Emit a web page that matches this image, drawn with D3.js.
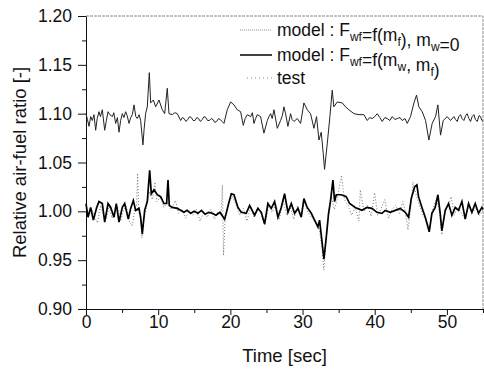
<!DOCTYPE html>
<html>
<head>
<meta charset="utf-8">
<style>
    body { margin: 0; background: white; }
    text { font-family: Arial, "Liberation Sans", sans-serif; fill: #111; }
    .axis path, .axis line { stroke: #111; stroke-width: 1; }
    .axis text { font-size: 17.5px; }
</style>
</head>
<body>
<div id="chart"></div>
<script src="https://cdn.jsdelivr.net/npm/d3@7"></script>
<script>

//////////////////// data ////////////////////
// model : Fwf = f(mf), mw = 0  (upper trace) -- [time s, ratio]
let model_mw0 = [
    [0,1.100],[0.2,1.094],[0.42,1.087],[0.65,1.097],[0.88,1.093],[1.1,1.099],[1.34,1.083],[1.55,1.095],[1.80,1.102],[2.0,1.097],[2.26,1.104],[2.59,1.083],[2.8,1.092],[3.05,1.102],
    [3.3,1.099],[3.65,1.097],[3.85,1.101],[4.11,1.090],[4.35,1.096],[4.57,1.081],[4.8,1.093],[5.03,1.100],[5.25,1.096],[5.49,1.102],[5.7,1.098],[5.96,1.090],[6.2,1.096],[6.42,1.099],[6.65,1.109],
    [6.9,1.097],[7.11,1.095],[7.35,1.099],[7.57,1.093],[7.89,1.068],[8.05,1.084],[8.26,1.100],[8.49,1.107],[8.77,1.142],[8.96,1.111],[9.33,1.114],
    [9.65,1.107],[10.11,1.114],[10.57,1.104],[10.90,1.100],[11.26,1.126],[11.50,1.100],[11.96,1.099],[12.3,1.101],[12.65,1.100],
    [13.11,1.093],[13.35,1.096],[13.6,1.095],[13.85,1.092],[14.1,1.094],[14.35,1.097],[14.6,1.096],[14.85,1.093],[15.1,1.093],[15.35,1.096],[15.6,1.095],[15.85,1.092],[16.1,1.094],[16.35,1.097],[16.6,1.096],
    [16.85,1.093],[17.1,1.093],[17.35,1.095],[17.6,1.094],[17.85,1.091],[18.1,1.092],[18.35,1.095],[18.6,1.094],[18.85,1.092],[19.11,1.090],[19.57,1.104],[20.04,1.112],[20.50,1.109],
    [20.96,1.104],[21.42,1.102],[21.79,1.088],[22.05,1.095],[22.35,1.099],[22.81,1.097],[23.05,1.101],[23.27,1.090],[23.5,1.095],[23.73,1.099],[24.19,1.097],
    [24.65,1.080],[25.12,1.093],[25.35,1.097],[25.58,1.100],[25.8,1.095],[26.04,1.104],[26.50,1.085],[26.96,1.093],[27.2,1.098],[27.42,1.107],[27.65,1.100],
    [27.97,1.087],[28.34,1.100],[28.55,1.094],[28.81,1.092],[29.27,1.095],[29.73,1.090],[30.19,1.111],[30.65,1.104],[31.11,1.100],
    [31.58,1.085],[31.94,1.097],[32.27,1.073],[32.59,1.081],[32.87,1.059],[33.05,1.043],[33.42,1.069],[33.79,1.097],
    [34.11,1.124],[34.34,1.107],[34.81,1.112],[35.50,1.111],[35.96,1.107],[36.42,1.104],[37.12,1.100],[37.81,1.099],
    [38.50,1.099],[38.96,1.093],[39.3,1.096],[39.65,1.095],[40.0,1.097],[40.35,1.100],[40.7,1.096],[41.04,1.092],[41.4,1.096],[41.73,1.095],[42.1,1.093],[42.43,1.097],[42.8,1.094],[43.12,1.095],
    [43.5,1.096],[43.81,1.093],[44.2,1.095],[44.50,1.090],[44.96,1.097],[45.43,1.111],[45.79,1.119],[46.12,1.107],[46.58,1.102],[47.04,1.093],
    [47.50,1.073],[47.96,1.090],[48.43,1.097],[48.75,1.109],[49.12,1.078],[49.49,1.093],[50.04,1.097],[50.50,1.093],
    [50.97,1.097],[51.2,1.094],[51.43,1.092],[51.65,1.097],[51.89,1.099],[52.1,1.095],[52.35,1.093],[52.6,1.098],[52.81,1.100],[53.05,1.095],[53.27,1.092],[53.5,1.097],[53.74,1.099],[53.95,1.094],[54.20,1.092],
    [54.45,1.098],[54.66,1.097],[54.85,1.093],[55,1.092]
];

// model : Fwf = f(mw, mf)  (lower trace)
let model_mwmf = [
    [0,1.008],[0.28,0.994],[0.65,1.004],[1.02,0.991],[1.48,1.004],[1.80,1.010],[2.26,1.008],[2.59,0.989],
    [3.05,1.008],[3.42,1.004],[3.88,0.994],[4.20,1.008],[4.57,0.989],[5.03,1.004],[5.36,1.008],[5.86,0.992],
    [6.19,1.003],[6.56,1.011],[6.88,1.001],[7.34,1.003],[7.57,0.994],[7.80,0.977],[8.13,1.001],[8.49,1.010],
    [8.82,1.042],[9.05,1.018],[9.42,1.022],[9.88,1.017],[10.34,1.015],[10.80,1.008],[11.17,1.008],[11.36,1.032],
    [11.54,1.006],[11.96,1.004],[12.65,1.003],[13.11,1.001],[13.57,0.999],[14.0,1.001],[14.5,0.998],[15.0,1.000],
    [15.5,0.998],[16.0,1.001],[16.5,0.997],[17.0,0.999],[17.5,0.998],[18.0,0.996],[18.56,0.999],[19.20,0.992],
    [19.43,0.998],[19.76,1.008],[20.13,1.018],[20.50,1.017],[21.05,1.004],[21.51,0.999],[22.20,0.998],[22.67,1.006],
    [23.36,0.996],[23.82,1.003],[24.28,0.999],[24.74,0.987],[25.20,1.008],[25.67,1.003],[26.13,1.010],[26.59,0.994],
    [27.05,1.004],[27.51,1.018],[27.98,0.999],[28.44,1.008],[28.90,0.998],[29.36,1.003],[29.82,0.994],[30.19,1.013],
    [30.65,1.004],[31.21,0.998],[31.67,0.991],[32.13,0.984],[32.36,0.991],[32.68,0.970],[32.96,0.951],[33.28,0.973],
    [33.61,0.998],[33.88,1.011],[34.21,1.032],[34.44,1.010],[34.67,1.017],[35.36,1.017],[36.05,1.015],[36.52,1.008],
    [37.30,1.004],[38.22,1.001],[38.92,1.004],[39.61,1.003],[40.30,0.999],[40.99,0.998],[41.46,1.001],[42.15,0.999],
    [42.84,1.001],[43.53,1.003],[44.23,0.999],[44.69,0.994],[45.06,1.013],[45.52,1.025],[45.84,1.027],[46.07,1.015],
    [46.54,1.004],[47.00,0.994],[47.55,0.979],[47.92,0.998],[48.38,1.004],[48.75,1.017],[49.07,0.998],[49.30,0.980],
    [49.77,1.001],[50.23,1.008],[50.69,0.996],[51.15,1.004],[51.61,1.001],[52.08,1.010],[52.54,0.992],[53.00,1.008],
    [53.46,0.999],[53.92,1.008],[54.38,0.998],[54.85,1.004],[55,1.002]
];

// test
let test = [
    [0,1.003],[0.4,0.996],[0.8,1.002],[1.2,0.994],[1.6,0.988],[2.0,1.006],[2.4,0.997],[2.8,0.992],[3.2,1.005],
    [3.6,0.993],[4.0,1.001],[4.4,1.004],[4.8,0.990],[5.2,1.002],[5.6,1.005],[6.0,0.990],[6.4,0.985],[6.8,1.004],
    [7.0,1.006],[7.15,1.039],[7.3,1.000],[7.6,0.990],[7.75,0.973],[8.0,0.992],[8.4,1.006],[8.8,1.020],[9.2,1.012],
    [9.55,1.030],[9.8,1.010],[10.3,1.014],[10.8,1.004],[11.3,1.010],[11.8,1.002],[12.4,1.011],[12.8,0.998],[13.3,1.002],
    [13.8,0.993],[14.3,1.001],[14.8,0.996],[15.3,1.002],[15.8,0.990],[16.3,0.999],[16.8,0.994],[17.3,1.002],[17.8,0.992],
    [18.3,1.000],[18.7,0.996],[18.9,1.027],[19.05,0.955],[19.3,0.996],[19.8,1.010],[20.3,1.015],[20.8,1.006],[21.3,0.996],
    [21.8,1.003],[22.3,0.990],[22.8,1.005],[23.3,0.994],[23.8,1.004],[24.3,0.996],[24.8,0.986],[25.3,1.006],[25.8,0.999],
    [26.3,1.008],[26.8,0.992],[27.3,1.012],[27.8,0.996],[28.3,1.004],[28.8,0.992],[29.3,1.006],[29.8,0.996],[30.3,1.010],
    [30.8,0.998],[31.3,0.993],[31.8,0.988],[32.3,0.982],[32.7,0.962],[32.95,0.940],[33.2,0.965],[33.6,1.000],[34.0,1.015],
    [34.4,1.002],[34.8,1.012],[35.4,1.037],[35.8,1.012],[36.3,1.006],[36.8,0.996],[37.3,1.004],[37.8,0.990],[38.0,1.022],
    [38.5,1.000],[39.0,1.006],[39.5,0.995],[40.0,1.019],[40.4,0.996],[40.9,1.003],[41.4,1.012],[41.9,0.993],[42.4,1.002],
    [42.9,1.006],[43.4,0.998],[43.9,1.010],[44.3,0.997],[44.6,0.981],[45.0,1.004],[45.3,1.030],[45.7,1.018],[46.2,1.006],
    [46.7,0.996],[47.2,0.990],[47.6,0.982],[48.0,1.002],[48.5,1.012],[48.9,1.004],[49.3,0.976],[49.7,1.000],[50.2,1.006],
    [50.6,1.015],[51.0,0.996],[51.5,1.004],[52.0,0.998],[52.5,0.992],[53.0,1.006],[53.5,0.998],[54.0,1.004],[54.5,0.996],
    [55,1.002]
];

let x_ticks = [0, 10, 20, 30, 40, 50];
let x_minor = [5, 15, 25, 35, 45, 55];
let y_ticks = [0.90, 0.95, 1.00, 1.05, 1.10, 1.15, 1.20];
let y_minor = [0.925, 0.975, 1.025, 1.075, 1.125, 1.175];

//////////////////// layout ////////////////////
let W = 484, H = 370;
let m_left = 86, m_right = 483, m_top = 16, m_bottom = 309;

let svg = d3.select('#chart').append('svg')
    .attr('width', W)
    .attr('height', H);

let x = d3.scaleLinear().domain([0, 55]).range([m_left, m_right]);
let y = d3.scaleLinear().domain([0.90, 1.20]).range([m_bottom, m_top]);

// frame top / right (faint)
svg.append('path')
    .attr('d', `M ${m_left} ${m_top} L ${m_right} ${m_top} L ${m_right} ${m_bottom}`)
    .attr('fill', 'none')
    .attr('stroke', '#888')
    .attr('stroke-dasharray', '3,1');

// axes
svg.append('g').attr('class', 'axis')
    .attr('transform', `translate(0, ${m_bottom})`)
    .call(d3.axisBottom(x).tickValues(x_minor).tickSize(4).tickFormat(''))
    .call(g => g.select('.domain').remove());
svg.append('g').attr('class', 'axis')
    .attr('transform', `translate(0, ${m_bottom})`)
    .call(d3.axisBottom(x).tickValues(x_ticks).tickSize(6).tickSizeOuter(0).tickPadding(1).tickFormat(d3.format('d')));

svg.append('g').attr('class', 'axis')
    .attr('transform', `translate(${m_left}, 0)`)
    .call(d3.axisLeft(y).tickValues(y_minor).tickSize(4).tickFormat(''))
    .call(g => g.select('.domain').remove());
svg.append('g').attr('class', 'axis')
    .attr('transform', `translate(${m_left}, 0)`)
    .call(d3.axisLeft(y).tickValues(y_ticks).tickSize(8).tickSizeOuter(0).tickPadding(6).tickFormat(d3.format('.2f')));

// titles
svg.append('text')
    .attr('x', (m_left + m_right) / 2)
    .attr('y', 362)
    .attr('text-anchor', 'middle')
    .style('font-size', '18.5px')
    .text('Time [sec]');

svg.append('text')
    .attr('transform', `translate(26, ${(m_top + m_bottom) / 2}) rotate(-90)`)
    .attr('text-anchor', 'middle')
    .style('font-size', '18.5px')
    .text('Relative air-fuel ratio [-]');

//////////////////// lines ////////////////////
let line = d3.line().x(d => x(d[0])).y(d => y(d[1]));

svg.append('path')
    .datum(test)
    .attr('d', line)
    .attr('fill', 'none')
    .attr('stroke', '#777')
    .attr('stroke-width', 1)
    .attr('stroke-dasharray', '1,2');

svg.append('path')
    .datum(model_mw0)
    .attr('d', line)
    .attr('fill', 'none')
    .attr('stroke', '#222')
    .attr('stroke-width', 1);

svg.append('path')
    .datum(model_mwmf)
    .attr('d', line)
    .attr('fill', 'none')
    .attr('stroke', '#000')
    .attr('stroke-width', 1.7);

//////////////////// legend ////////////////////
let legend = svg.append('g');
let leg_rows = [
    {y: 30, stroke: '#888', width: 1, dash: '1,1', x0: 240},
    {y: 55, stroke: '#000', width: 1.5, dash: null, x0: 240},
    {y: 78, stroke: '#888', width: 1, dash: '1,3', x0: 247}
];
leg_rows.forEach(r => {
    legend.append('line')
        .attr('x1', r.x0).attr('x2', 272)
        .attr('y1', r.y).attr('y2', r.y)
        .attr('stroke', r.stroke)
        .attr('stroke-width', r.width)
        .attr('stroke-dasharray', r.dash);
});

function legText(yy, parts) {
    let t = legend.append('text')
        .attr('x', 277)
        .attr('y', yy + 6)
        .style('font-size', '17.5px');
    parts.forEach(p => {
        if (p.sub) {
            t.append('tspan').attr('dy', 5).style('font-size', '12px').text(p.sub);
            t.append('tspan').attr('dy', -5).text('');
        } else {
            t.append('tspan').text(p.s);
        }
    });
}
legText(30, [{s: 'model : F'}, {sub: 'wf'}, {s: '=f(m'}, {sub: 'f'}, {s: '), m'}, {sub: 'w'}, {s: '=0'}]);
legText(55, [{s: 'model : F'}, {sub: 'wf'}, {s: '=f(m'}, {sub: 'w'}, {s: ', m'}, {sub: 'f'}, {s: ')'}]);
legText(78, [{s: 'test'}]);

</script>
</body>
</html>
